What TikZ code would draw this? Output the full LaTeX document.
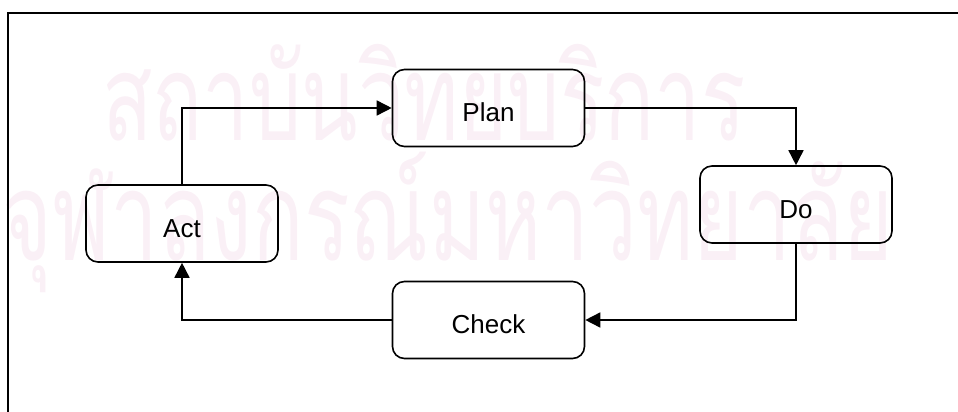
\documentclass[tikz,border=0pt]{standalone}
\usepackage{fontspec}
\setmainfont{Liberation Sans}
\newfontfamily\thaifont[Script=Thai]{Loma}
\usetikzlibrary{arrows.meta}
\definecolor{wm}{RGB}{250,240,246}
\begin{document}
\begin{tikzpicture}[x=1pt,y=-1pt,
  box/.style={draw, line width=1.6pt, rounded corners=12pt, minimum width=192pt,
    minimum height=77pt, inner sep=0pt, text height=27pt, text depth=0pt,
    font=\fontsize{26}{30}\selectfont},
  flow/.style={line width=1.6pt, -{Triangle[length=15pt,width=15pt]}},
  wmark/.style={text=wm, inner sep=0pt, anchor=base west}]
\useasboundingbox (0,0) rectangle (958,412);
% watermark
\node[wmark] (wm1) at (102,140) {\scalebox{1}[1.45]{\resizebox{643pt}{!}{\thaifont สถาบันวิทยบริการ}}};
\node[wmark] (wm2) at (2,260) {\scalebox{1}[1.45]{\resizebox{891pt}{!}{\thaifont จุฬาลงกรณ์มหาวิทยาลัย}}};
% frame
\coordinate (fr) at (958,13);
\coordinate (fc) at (8,13);
\coordinate (fb) at (8,412);
\draw[line width=2pt] (fr) -- (fc) -- (fb);
% boxes
\node[box] (plan) at (488.5,108) {Plan};
\node[box] (do) at (796,204.5) {Do};
\node[box] (act) at (182,223.5) {Act};
\node[box] (check) at (488.5,320) {Check};
% connectors
\draw[flow] (act.north) |- (plan.west);
\draw[flow] (plan.east) -| (do.north);
\draw[flow] (do.south) |- (check.east);
\draw[flow] (check.west) -| (act.south);
\end{tikzpicture}
\end{document}
